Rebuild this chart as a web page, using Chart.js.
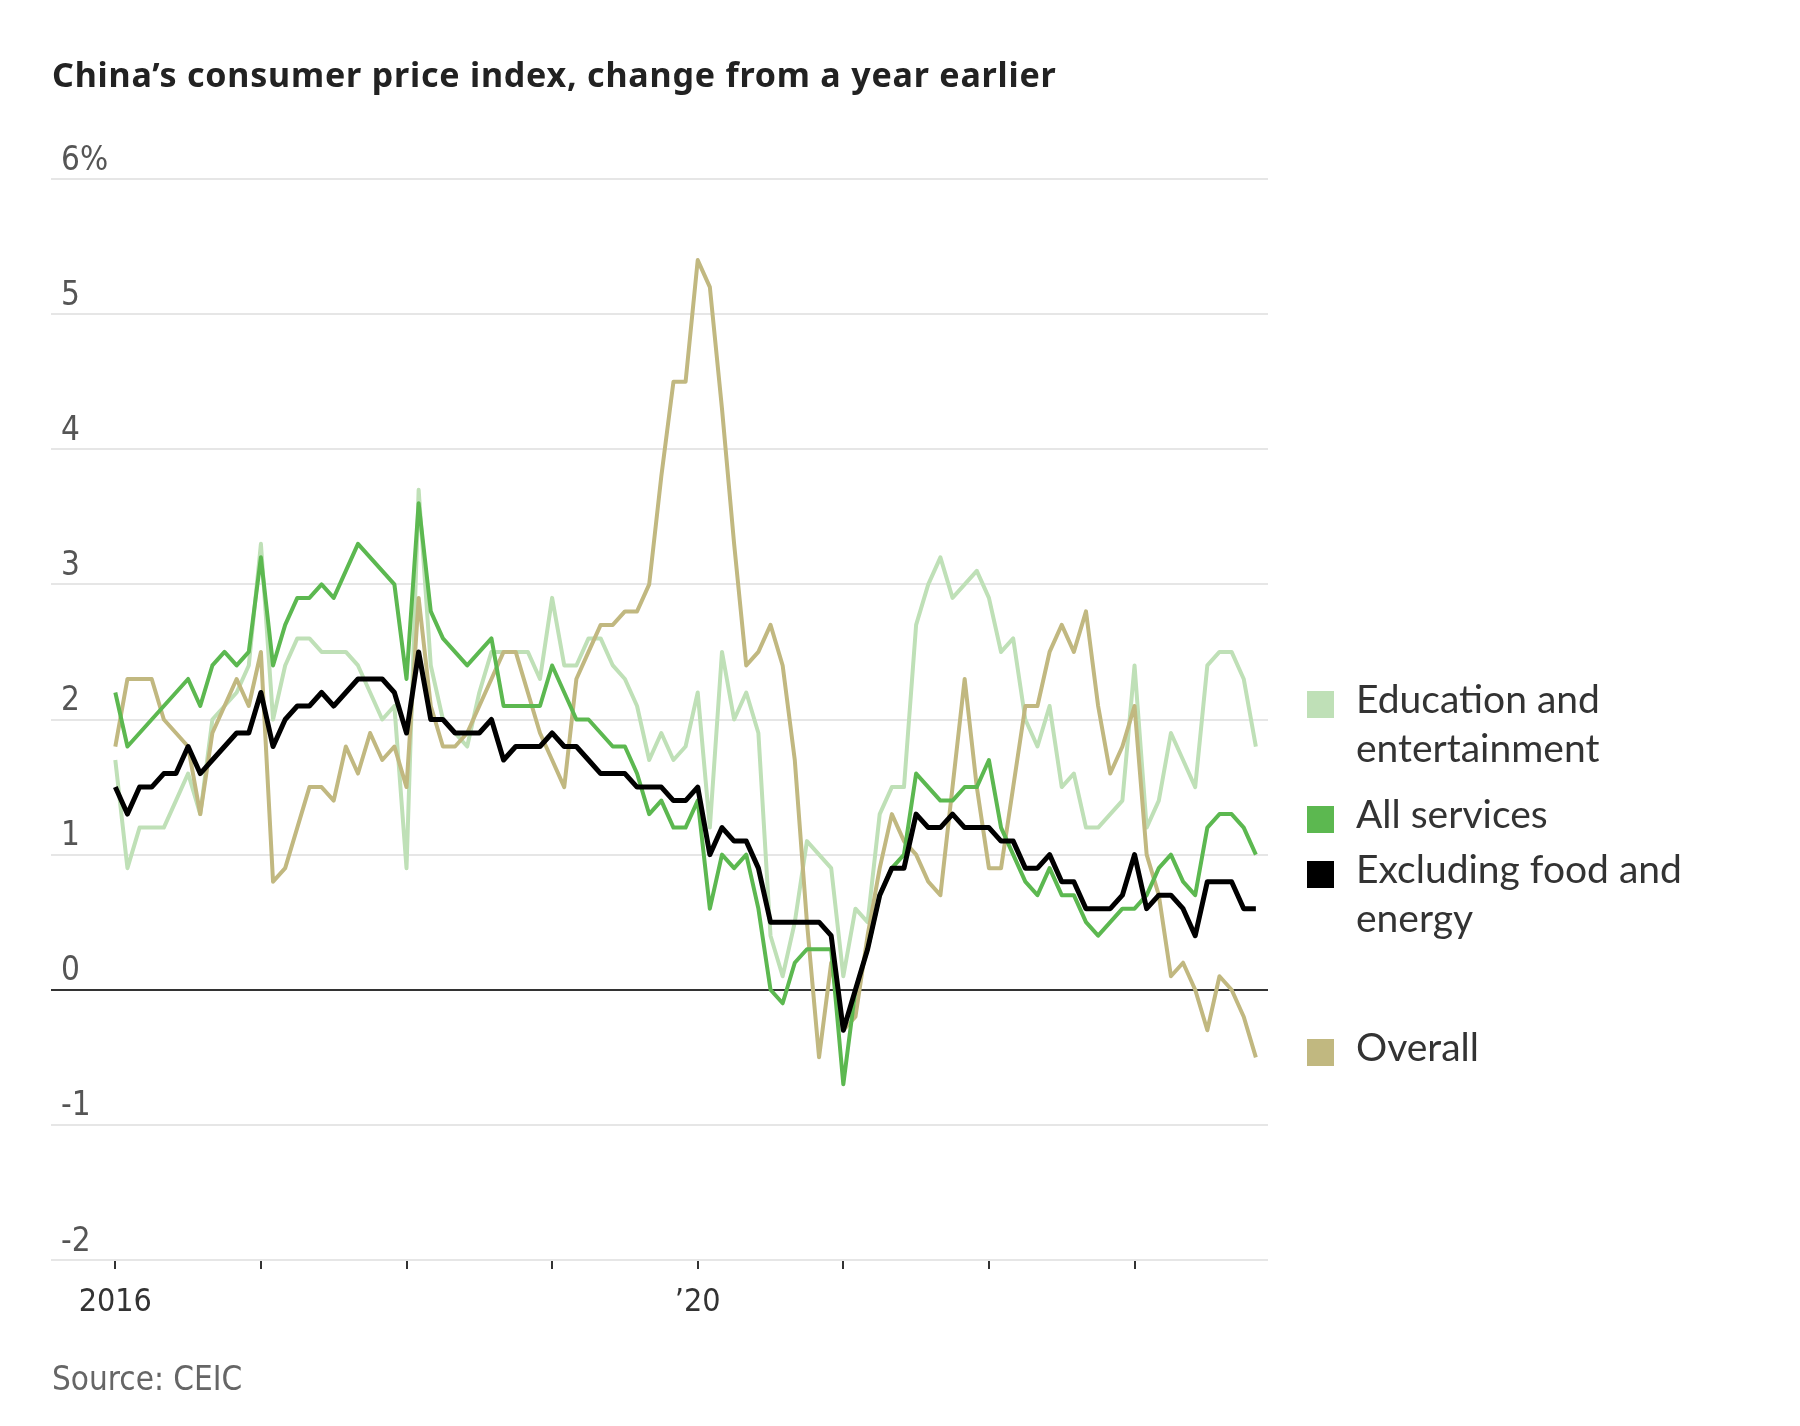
<!DOCTYPE html>
<html>
<head>
<meta charset="utf-8">
<script src="https://cdn.jsdelivr.net/npm/chart.js@4.4.1/dist/chart.umd.min.js"></script>
<style>
  html, body { margin: 0; padding: 0; background: #fff; }
  canvas { display: block; }
</style>
</head>
<body>
<canvas id="myChart" width="1800" height="1426"></canvas>
<script>
// monthly, Jan 2016 .. Nov 2023 (x = month index)
const months = [];
for (let y = 2016; y <= 2023; y++) {
  for (let m = 1; m <= 12; m++) {
    if (months.length < 95) months.push(y + "-" + String(m).padStart(2, "0"));
  }
}

const overall = [
  1.8,2.3,2.3,2.3,2.0,1.9,1.8,1.3,1.9,2.1,2.3,2.1,
  2.5,0.8,0.9,1.2,1.5,1.5,1.4,1.8,1.6,1.9,1.7,1.8,
  1.5,2.9,2.1,1.8,1.8,1.9,2.1,2.3,2.5,2.5,2.2,1.9,
  1.7,1.5,2.3,2.5,2.7,2.7,2.8,2.8,3.0,3.8,4.5,4.5,
  5.4,5.2,4.3,3.3,2.4,2.5,2.7,2.4,1.7,0.5,-0.5,0.2,
  -0.3,-0.2,0.4,0.9,1.3,1.1,1.0,0.8,0.7,1.5,2.3,1.5,
  0.9,0.9,1.5,2.1,2.1,2.5,2.7,2.5,2.8,2.1,1.6,1.8,
  2.1,1.0,0.7,0.1,0.2,0.0,-0.3,0.1,0.0,-0.2,-0.5
];
const exFoodEnergy = [
  1.5,1.3,1.5,1.5,1.6,1.6,1.8,1.6,1.7,1.8,1.9,1.9,
  2.2,1.8,2.0,2.1,2.1,2.2,2.1,2.2,2.3,2.3,2.3,2.2,
  1.9,2.5,2.0,2.0,1.9,1.9,1.9,2.0,1.7,1.8,1.8,1.8,
  1.9,1.8,1.8,1.7,1.6,1.6,1.6,1.5,1.5,1.5,1.4,1.4,
  1.5,1.0,1.2,1.1,1.1,0.9,0.5,0.5,0.5,0.5,0.5,0.4,
  -0.3,0.0,0.3,0.7,0.9,0.9,1.3,1.2,1.2,1.3,1.2,1.2,
  1.2,1.1,1.1,0.9,0.9,1.0,0.8,0.8,0.6,0.6,0.6,0.7,
  1.0,0.6,0.7,0.7,0.6,0.4,0.8,0.8,0.8,0.6,0.6
];
const services = [
  2.2,1.8,1.9,2.0,2.1,2.2,2.3,2.1,2.4,2.5,2.4,2.5,
  3.2,2.4,2.7,2.9,2.9,3.0,2.9,3.1,3.3,3.2,3.1,3.0,
  2.3,3.6,2.8,2.6,2.5,2.4,2.5,2.6,2.1,2.1,2.1,2.1,
  2.4,2.2,2.0,2.0,1.9,1.8,1.8,1.6,1.3,1.4,1.2,1.2,
  1.4,0.6,1.0,0.9,1.0,0.6,0.0,-0.1,0.2,0.3,0.3,0.3,
  -0.7,0.0,0.3,0.7,0.9,1.0,1.6,1.5,1.4,1.4,1.5,1.5,
  1.7,1.2,1.0,0.8,0.7,0.9,0.7,0.7,0.5,0.4,0.5,0.6,
  0.6,0.7,0.9,1.0,0.8,0.7,1.2,1.3,1.3,1.2,1.0
];
const education = [
  1.7,0.9,1.2,1.2,1.2,1.4,1.6,1.3,2.0,2.1,2.2,2.4,
  3.3,2.0,2.4,2.6,2.6,2.5,2.5,2.5,2.4,2.2,2.0,2.1,
  0.9,3.7,2.4,2.0,1.9,1.8,2.2,2.5,2.5,2.5,2.5,2.3,
  2.9,2.4,2.4,2.6,2.6,2.4,2.3,2.1,1.7,1.9,1.7,1.8,
  2.2,1.2,2.5,2.0,2.2,1.9,0.4,0.1,0.5,1.1,1.0,0.9,
  0.1,0.6,0.5,1.3,1.5,1.5,2.7,3.0,3.2,2.9,3.0,3.1,
  2.9,2.5,2.6,2.0,1.8,2.1,1.5,1.6,1.2,1.2,1.3,1.4,
  2.4,1.2,1.4,1.9,1.7,1.5,2.4,2.5,2.5,2.3,1.8
];

const xTickPos = [0, 12, 24, 36, 48, 60, 72, 84];
const xTickLabels = ["2016", "", "", "", "\u201920", "", "", ""];
const yTickVals = [-2, -1, 0, 1, 2, 3, 4, 5, 6];
const yTickLabels = ["-2", "-1", "0", "1", "2", "3", "4", "5", "6%"];

const legendItems = [
  { lines: ["Education and", "entertainment"], color: "#bfe0b7" },
  { lines: ["All services"], color: "#5cb850" },
  { lines: ["Excluding food and", "energy"], color: "#000000" },
  { lines: ["Overall"], color: "#c1b880" }
];

const narrow = "'Liberation Sans Narrow', 'DejaVu Sans Condensed', sans-serif";

function series(vals) {
  return vals.map((v, i) => ({ x: i, y: v }));
}

const textPlugin = {
  id: "texts",
  afterDraw(chart) {
    const ctx = chart.ctx;
    ctx.save();
    ctx.textBaseline = "alphabetic";
    ctx.textAlign = "left";

    ctx.fillStyle = "#222";
    ctx.font = "bold 34px 'Noto Sans'";
    if ("letterSpacing" in ctx) ctx.letterSpacing = "0.8px";
    ctx.fillText("China\u2019s consumer price index, change from a year earlier", 52, 87);
    if ("letterSpacing" in ctx) ctx.letterSpacing = "0px";

    ctx.fillStyle = "#666";
    ctx.font = "33px " + narrow;
    ctx.fillText("Source: CEIC", 52, 1390);

    // legend
    const tops = [713, 828, 883, 1061];
    ctx.font = "39px Lato";
    legendItems.forEach((it, k) => {
      const base = tops[k];
      ctx.fillStyle = it.color;
      ctx.fillRect(1307, base - 22, 27, 27);
      ctx.fillStyle = "#333";
      it.lines.forEach((ln, j) => ctx.fillText(ln, 1356, base + j * 49));
    });
    ctx.restore();
  }
};

new Chart("myChart", {
  type: "line",
  data: {
    labels: months,
    datasets: [{
      data: series(exFoodEnergy),
      borderColor: "#000",
      borderWidth: 5,
      order: 0
    }, {
      data: series(services),
      borderColor: "#5cb850",
      borderWidth: 4,
      order: 1
    }, {
      data: series(overall),
      borderColor: "#c1b880",
      borderWidth: 4,
      order: 2
    }, {
      data: series(education),
      borderColor: "#bfe0b7",
      borderWidth: 4,
      order: 3
    }]
  },
  options: {
    responsive: false,
    animation: false,
    devicePixelRatio: 1,
    elements: {
      point: { radius: 0 },
      line: { tension: 0, fill: false, borderJoinStyle: "round" }
    },
    layout: { padding: { left: 51, right: 532, top: 179, bottom: 96 } },
    plugins: { legend: { display: false }, tooltip: { enabled: false } },
    scales: {
      x: {
        type: "linear",
        min: -5.3,
        max: 95.0,
        afterBuildTicks: s => { s.ticks = xTickPos.map(v => ({ value: v })); },
        afterFit: s => { s.height = 70; },
        border: { display: false },
        grid: { drawOnChartArea: false, drawTicks: true, tickLength: 9, color: "#333", lineWidth: 2 },
        ticks: {
          autoSkip: false, maxRotation: 0, padding: 14, color: "#333",
          font: { family: narrow, size: 32 },
          callback: (v, i) => xTickLabels[i]
        }
      },
      y: {
        min: -2,
        max: 6,
        afterBuildTicks: s => { s.ticks = yTickVals.map(v => ({ value: v })); },
        afterFit: s => { s.width = 0; },
        border: { display: false },
        grid: {
          drawTicks: false,
          lineWidth: 2,
          color: c => (c.tick && c.tick.value === 0) ? "#333" : "#e6e6e6"
        },
        ticks: {
          mirror: true, padding: 10, labelOffset: -18, color: "#555",
          font: { family: narrow, size: 33 },
          callback: (v, i) => yTickLabels[i]
        }
      }
    }
  },
  plugins: [textPlugin]
});
</script>
</body>
</html>
